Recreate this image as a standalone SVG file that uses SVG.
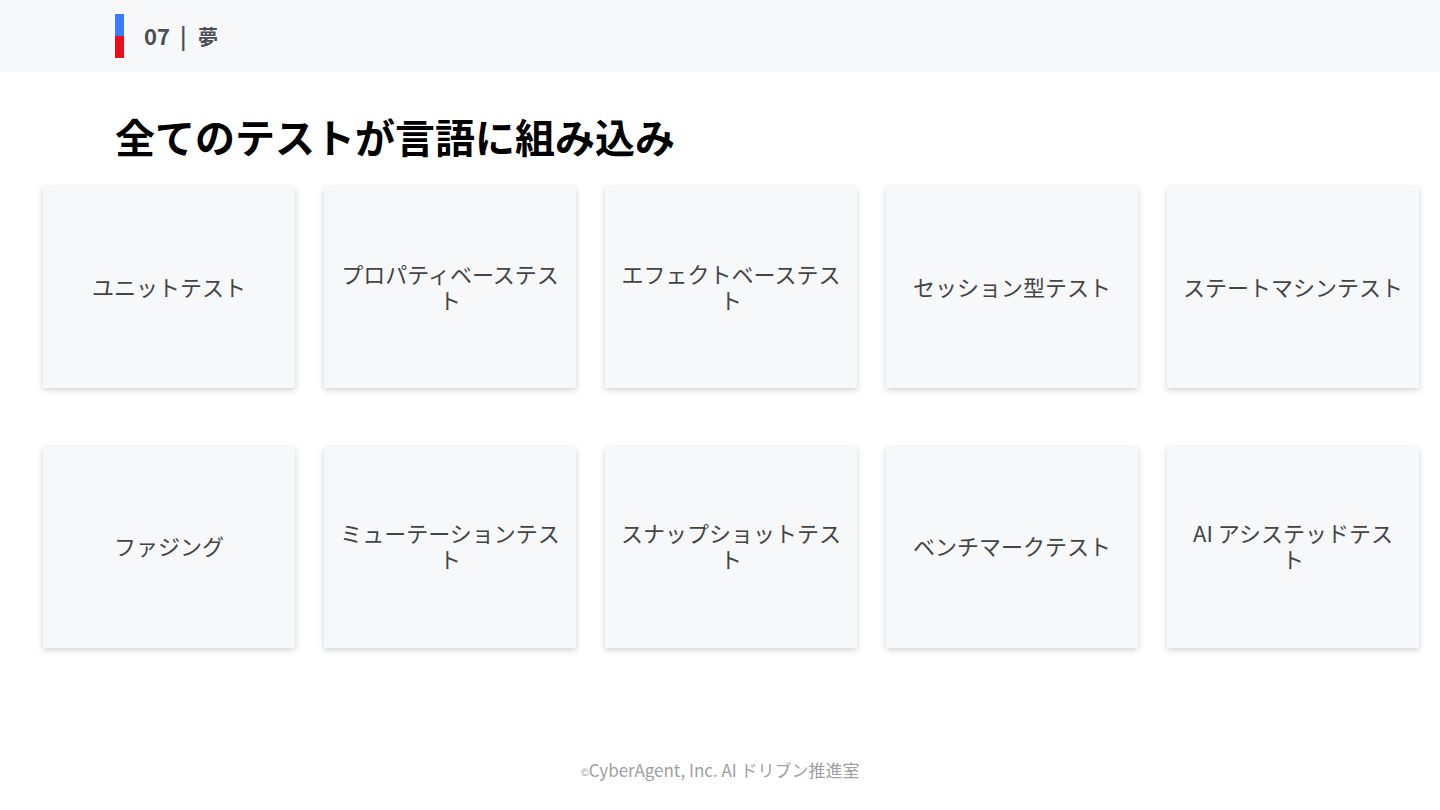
<svg xmlns="http://www.w3.org/2000/svg" width="1440" height="810" viewBox="0 0 1440 810">
<defs>
<filter id="sh" x="-10%" y="-10%" width="120%" height="125%">
<feDropShadow dx="0" dy="2" stdDeviation="3" flood-color="#000" flood-opacity="0.18"/>
</filter>
<style>
.card{fill:#f7f8fa;filter:url(#sh)}
.lbl{font-family:"Noto Sans CJK JP","Noto Sans",sans-serif;font-size:22px;fill:#444;text-anchor:middle}
.hdr{font-family:"Noto Sans CJK JP","Noto Sans",sans-serif;font-weight:bold;fill:#4a4f57}
</style>
</defs>
<rect width="1440" height="810" fill="#fff"/>
<rect width="1440" height="72" fill="#f7f8fa"/>
<rect x="115" y="14" width="9" height="22" fill="#3b7cff"/>
<rect x="115" y="36" width="9" height="22" fill="#f00a14"/>
<text class="hdr" x="144" y="45" font-size="22">07</text>
<text class="hdr" x="180" y="45" font-size="22">|</text>
<text class="hdr" x="198" y="45" font-size="20">夢</text>
<text x="115" y="153" font-family="'Noto Sans CJK JP','Noto Sans',sans-serif" font-weight="bold" font-size="40" fill="#000">全てのテストが言語に組み込み</text>
<g id="n1"><rect class="card" x="43" y="187" width="252" height="201"/><text class="lbl" x="169" y="296">ユニットテスト</text></g>
<g id="n2"><rect class="card" x="324" y="187" width="252" height="201"/><text class="lbl" x="450" y="283">プロパティベーステス</text><text class="lbl" x="450" y="309">ト</text></g>
<g id="n3"><rect class="card" x="605" y="187" width="252" height="201"/><text class="lbl" x="731" y="283">エフェクトベーステス</text><text class="lbl" x="731" y="309">ト</text></g>
<g id="n4"><rect class="card" x="886" y="187" width="252" height="201"/><text class="lbl" x="1012" y="296">セッション型テスト</text></g>
<g id="n5"><rect class="card" x="1167" y="187" width="252" height="201"/><text class="lbl" x="1293" y="296">ステートマシンテスト</text></g>
<g id="n6"><rect class="card" x="43" y="447" width="252" height="201"/><text class="lbl" x="169" y="555">ファジング</text></g>
<g id="n7"><rect class="card" x="324" y="447" width="252" height="201"/><text class="lbl" x="450" y="542">ミューテーションテス</text><text class="lbl" x="450" y="568">ト</text></g>
<g id="n8"><rect class="card" x="605" y="447" width="252" height="201"/><text class="lbl" x="731" y="542">スナップショットテス</text><text class="lbl" x="731" y="568">ト</text></g>
<g id="n9"><rect class="card" x="886" y="447" width="252" height="201"/><text class="lbl" x="1012" y="555">ベンチマークテスト</text></g>
<g id="n10"><rect class="card" x="1167" y="447" width="252" height="201"/><text class="lbl" x="1293" y="542">AI アシステッドテス</text><text class="lbl" x="1293" y="568">ト</text></g>
<g id="connectors"/>
<text x="720" y="777" text-anchor="middle" font-family="'Noto Sans CJK JP','Noto Sans',sans-serif" font-size="17" fill="#a0a0a0"><tspan font-size="10" dy="-1">©</tspan><tspan dy="1">CyberAgent, Inc. AI ドリブン推進室</tspan></text>
</svg>
